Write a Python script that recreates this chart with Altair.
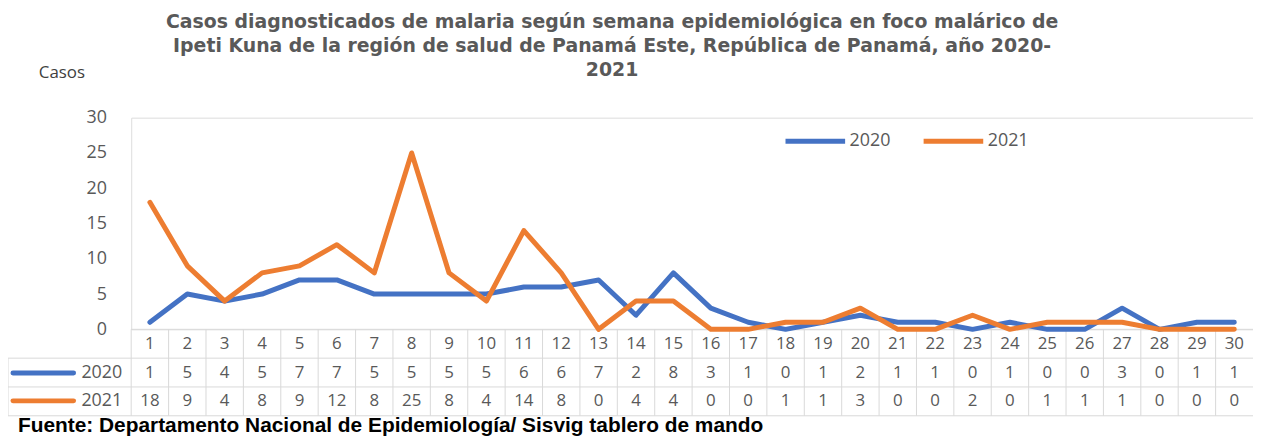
import altair as alt
import pandas as pd

weeks = list(range(1, 31))
cases_2020 = [1, 5, 4, 5, 7, 7, 5, 5, 5, 5, 6, 6, 7, 2, 8, 3, 1, 0, 1, 2, 1, 1, 0, 1, 0, 0, 3, 0, 1, 1]
cases_2021 = [18, 9, 4, 8, 9, 12, 8, 25, 8, 4, 14, 8, 0, 4, 4, 0, 0, 1, 1, 3, 0, 0, 2, 0, 1, 1, 1, 0, 0, 0]
series = ["2020", "2021"]
colors = ["#4472C4", "#ED7D31"]
y_ticks = [0, 5, 10, 15, 20, 25, 30]
title_lines = [
    "Casos diagnosticados de malaria según semana epidemiológica en foco malárico de",
    "Ipeti Kuna de la  región de salud de Panamá Este, República de Panamá, año 2020-",
    "2021",
]
y_title = "Casos"
source_text = "Fuente: Departamento Nacional de Epidemiología/ Sisvig tablero de mando"

rows = []
for w, a, b in zip(weeks, cases_2020, cases_2021):
    rows.append({"week": w, "serie": "2020", "casos": a})
    rows.append({"week": w, "serie": "2021", "casos": b})
df = pd.DataFrame(rows)

W, H = 1129, 213
FONT = "Open Sans"
GRAY = "#595959"
GRID = "#D9D9D9"
NUM = 17

xscale = alt.Scale(type="band", paddingInner=0, paddingOuter=0, domain=weeks)
xenc = alt.X("week:O", scale=xscale, axis=None, bandPosition=0.5)

lines = alt.Chart(df).mark_line(strokeWidth=5, strokeCap="round", strokeJoin="round").encode(
    x=xenc,
    y=alt.Y("casos:Q", scale=alt.Scale(domain=[0, 30]),
            axis=alt.Axis(values=y_ticks, title=None, grid=False, domain=False, ticks=False,
                          labelFont=FONT, labelFontSize=18, labelColor=GRAY, labelPadding=25)),
    color=alt.Color("serie:N", scale=alt.Scale(domain=series, range=colors),
                    legend=alt.Legend(orient="none", legendX=656, legendY=-9, direction="horizontal",
                                      title=None, symbolType="stroke", symbolSize=3600,
                                      symbolStrokeWidth=5, labelFont=FONT, labelFontSize=18,
                                      labelColor=GRAY, labelOffset=2, columnPadding=22)),
)

base = alt.Chart(df)

header = alt.Chart(pd.DataFrame({"week": weeks})).mark_text(
    font=FONT, fontSize=NUM, color=GRAY, baseline="middle").encode(
    x=xenc, y=alt.value(228), text="week:O")

row2020 = base.transform_filter(alt.datum.serie == "2020").mark_text(
    font=FONT, fontSize=NUM, color=GRAY, baseline="middle").encode(
    x=xenc, y=alt.value(257), text="casos:Q")
row2021 = base.transform_filter(alt.datum.serie == "2021").mark_text(
    font=FONT, fontSize=NUM, color=GRAY, baseline="middle").encode(
    x=xenc, y=alt.value(285), text="casos:Q")

vgrid = alt.Chart(pd.DataFrame({"week": weeks})).mark_rule(color=GRID, strokeWidth=1).encode(
    x=alt.X("week:O", scale=xscale, axis=None, bandPosition=0),
    y=alt.value(213), y2=alt.value(300))

hlines_df = pd.DataFrame({"x1": [0, -124, -124, -124], "x2": [W, W, W, W], "y": [213, 242, 271, 300]})
hgrid = alt.Chart(hlines_df).mark_rule(color=GRID, strokeWidth=1).encode(
    x=alt.X("x1:Q", scale=None), x2="x2:Q", y=alt.Y("y:Q", scale=None))
lborder = alt.Chart(pd.DataFrame({"x": [-124], "y1": [242], "y2": [300]})).mark_rule(color=GRID).encode(
    x=alt.X("x:Q", scale=None), y=alt.Y("y1:Q", scale=None), y2="y2:Q")

key_df = pd.DataFrame({"serie": series, "y": [257, 285]})
keys = alt.Chart(key_df).mark_rule(strokeWidth=5, strokeCap="round").encode(
    x=alt.value(-119), x2=alt.value(-58), y=alt.Y("y:Q", scale=None),
    color=alt.Color("serie:N", scale=alt.Scale(domain=series, range=colors), legend=None))
key_text = alt.Chart(key_df).mark_text(font=FONT, fontSize=NUM + 1, color=GRAY, align="right",
                                       baseline="middle").encode(
    x=alt.value(-9), y=alt.Y("y:Q", scale=None), text="serie:N")

title = alt.Chart(pd.DataFrame({"t": ["\n".join(title_lines)]})).mark_text(
    font="DejaVu Sans", fontSize=19, fontWeight="bold", color=GRAY, align="center", baseline="middle",
    lineBreak="\n", lineHeight=24).encode(x=alt.value(484), y=alt.value(-96), text="t:N")

ytitle = alt.Chart(pd.DataFrame({"t": [y_title]})).mark_text(
    font=FONT, fontSize=17, color="#404040", align="left", baseline="middle").encode(
    x=alt.value(-93), y=alt.value(-45), text="t:N")

source = alt.Chart(pd.DataFrame({"t": [source_text]})).mark_text(
    font="Liberation Sans", fontSize=21, fontWeight="bold", color="#000000", align="left",
    baseline="middle").encode(x=alt.value(-114), y=alt.value(310), text="t:N")

chart = alt.layer(vgrid, hgrid, lborder, header, row2020, row2021, keys, key_text,
                  lines, title, ytitle, source).resolve_scale(color="independent").properties(
    width=W, height=H,
    autosize=alt.AutoSizeParams(type="none"),
    padding={"left": 124, "top": 109, "right": 0, "bottom": 111},
).configure_view(stroke=None).configure(background="white")

chart.save("out.html", embed_options={"renderer": "svg", "actions": False})
